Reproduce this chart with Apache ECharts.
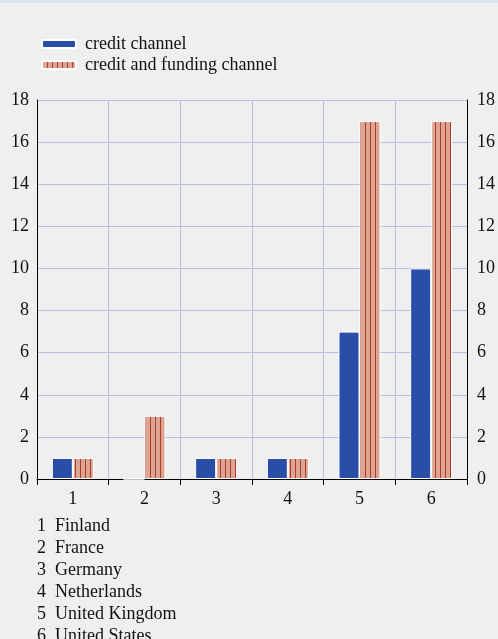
<!DOCTYPE html>
<html><head><meta charset="utf-8">
<script src="https://cdn.jsdelivr.net/npm/echarts@6/dist/echarts.min.js"></script>
<style>html,body{margin:0;padding:0;background:#efefef;}#c{width:498px;height:639px;}</style>
</head><body><div id="c"></div>
<script>
const categories = ['1','2','3','4','5','6'];
const countries = ['Finland','France','Germany','Netherlands','United Kingdom','United States'];
const creditChannel = [1,0,1,1,7,10];
const creditFundingChannel = [1,3,1,1,17,17];
const seriesNames = ['credit channel','credit and funding channel'];

const pc = document.createElement('canvas');
pc.width = 5; pc.height = 10;
const g = pc.getContext('2d');
g.fillStyle = '#dba592'; g.fillRect(0,0,5,10);
g.fillStyle = '#b23a28'; g.fillRect(0,0,1,10);
const stripe = {image: pc, repeat: 'repeat'};

const font = 'Times New Roman';
const fs = 18;
const chart = echarts.init(document.getElementById('c'));
const graphics = [
  {type:'rect', shape:{x:0,y:0,width:498,height:3}, style:{fill:'#d6e6ea'}}
];
countries.forEach((c,i)=>{
  graphics.push({type:'text', left:37, top:517+i*22, style:{text:categories[i]+'  '+c, fontFamily:font, fontSize:fs, fill:'#111'}});
});
chart.setOption({
  backgroundColor:'#efefef',
  animation:false,
  textStyle:{fontFamily:font},
  legend:{orient:'vertical', left:36, top:30, itemWidth:34, itemHeight:8, itemGap:3,
    textStyle:{fontFamily:font, fontSize:fs, color:'#111', padding:[0,0,0,4]},
    data:seriesNames},
  grid:{left:37, right:31, top:100, bottom:160},
  xAxis:{type:'category', data:categories,
    axisLine:{lineStyle:{color:'#000', width:1}},
    axisTick:{show:true, length:6, lineStyle:{color:'#000'}},
    axisLabel:{fontFamily:font, fontSize:fs, color:'#111', margin:11},
    splitLine:{show:true, lineStyle:{color:'#b7bde6'}}},
  yAxis:[
    {type:'value', min:0, max:18, interval:2, position:'left',
     axisLine:{show:true, lineStyle:{color:'#000'}}, axisTick:{show:false},
     axisLabel:{fontFamily:font, fontSize:fs, color:'#111', margin:8},
     splitLine:{show:true, lineStyle:{color:'#b7bde6'}}},
    {type:'value', min:0, max:18, interval:2, position:'right',
     axisLine:{show:true, lineStyle:{color:'#000'}}, axisTick:{show:false},
     axisLabel:{fontFamily:font, fontSize:fs, color:'#111', margin:10},
     splitLine:{show:false}}
  ],
  series:[
    {name:seriesNames[0], type:'bar', data:creditChannel, barWidth:21, barGap:'0%',
     itemStyle:{color:'#2a4da8', borderColor:'#ffffff', borderWidth:1}},
    {name:seriesNames[1], type:'bar', data:creditFundingChannel, barWidth:21, barGap:'0%',
     itemStyle:{color:stripe, borderColor:'#ffffff', borderWidth:1}}
  ],
  graphic:graphics
});
</script></body></html>
